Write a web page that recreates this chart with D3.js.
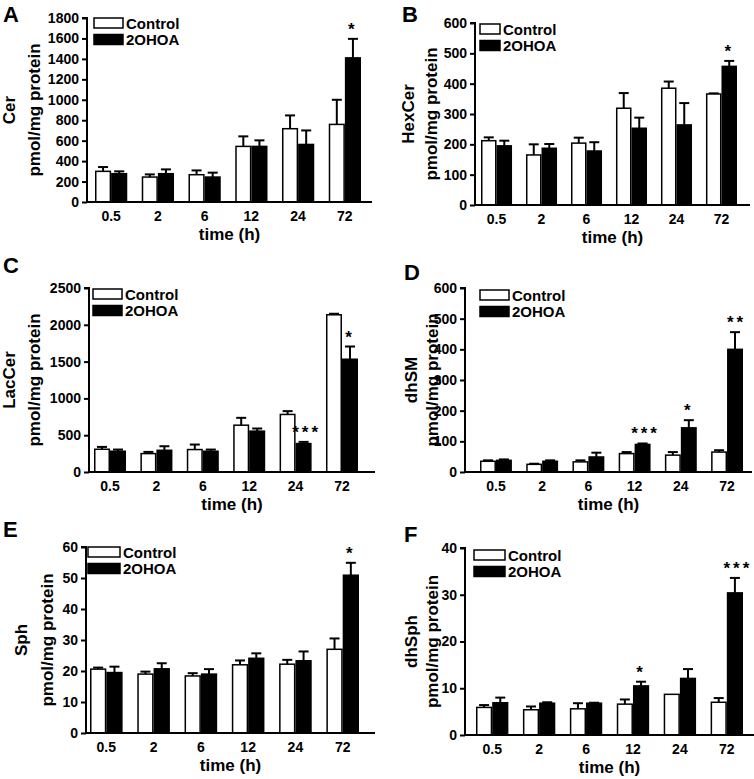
<!DOCTYPE html>
<html>
<head>
<meta charset="utf-8">
<script src="https://cdn.jsdelivr.net/npm/d3@7"></script>
<style>
  body { margin: 0; background: #fff; }
  svg text { font-family: "Liberation Sans", Arial, sans-serif; font-weight: bold; fill: #000; }
</style>
</head>
<body>
<svg id="chart" width="754" height="779"></svg>
<script>
var times = ["0.5", "2", "6", "12", "24", "72"];
var seriesNames = ["Control", "2OHOA"];

// Cer
var cerCtrl = [300, 244, 267, 544, 717, 759];
var cerCtrlSem = [42, 26, 42, 98, 130, 241];
var cerOh = [277, 277, 244, 544, 563, 1410];
var cerOhSem = [23, 42, 43, 59, 137, 186];
var cerSig = ["", "", "", "", "", "*"];

// HexCer
var hexCtrl = [212, 165, 204, 319, 385, 366];
var hexCtrlSem = [11, 35, 18, 50, 22, 2];
var hexOh = [195, 187, 178, 253, 264, 457];
var hexOhSem = [17, 14, 29, 35, 72, 18];
var hexSig = ["", "", "", "", "", "*"];

// LacCer
var lacCtrl = [309, 250, 305, 636, 782, 2136];
var lacCtrlSem = [32, 23, 68, 100, 45, 14];
var lacOh = [282, 295, 282, 555, 386, 1532];
var lacOhSem = [23, 55, 23, 36, 23, 173];
var lacSig = ["", "", "", "", "***", "*"];

// dhSM
var dhsmCtrl = [35, 25, 33, 60, 55, 65];
var dhsmCtrlSem = [3, 2, 5, 5, 10, 6];
var dhsmOh = [38, 35, 49, 90, 144, 400];
var dhsmOhSem = [3, 3, 14, 3, 25, 56];
var dhsmSig = ["", "", "", "***", "*", "**"];

// Sph
var sphCtrl = [20.6, 19.0, 18.4, 22.0, 22.2, 27.0];
var sphCtrlSem = [0.5, 0.8, 0.9, 1.4, 1.4, 3.5];
var sphOh = [19.5, 20.7, 19.0, 24.1, 23.3, 50.9];
var sphOhSem = [1.9, 1.8, 1.6, 1.6, 3.0, 4.0];
var sphSig = ["", "", "", "", "", "*"];

// dhSph
var dhsphCtrl = [5.9, 5.4, 5.6, 6.6, 8.7, 7.0];
var dhsphCtrlSem = [0.5, 0.7, 1.2, 1.0, 0, 0.9];
var dhsphOh = [6.9, 6.8, 6.8, 10.5, 12.1, 30.4];
var dhsphOhSem = [1.1, 0.2, 0.1, 0.9, 2.0, 3.2];
var dhsphSig = ["", "", "", "*", "", "***"];

var panels = [
  { letter: "A", name: "Cer", max: 1800, step: 200, ctrl: cerCtrl, ctrlSem: cerCtrlSem, oh: cerOh, ohSem: cerOhSem, sig: cerSig },
  { letter: "B", name: "HexCer", max: 600, step: 100, ctrl: hexCtrl, ctrlSem: hexCtrlSem, oh: hexOh, ohSem: hexOhSem, sig: hexSig },
  { letter: "C", name: "LacCer", max: 2500, step: 500, ctrl: lacCtrl, ctrlSem: lacCtrlSem, oh: lacOh, ohSem: lacOhSem, sig: lacSig },
  { letter: "D", name: "dhSM", max: 600, step: 100, ctrl: dhsmCtrl, ctrlSem: dhsmCtrlSem, oh: dhsmOh, ohSem: dhsmOhSem, sig: dhsmSig },
  { letter: "E", name: "Sph", max: 60, step: 10, ctrl: sphCtrl, ctrlSem: sphCtrlSem, oh: sphOh, ohSem: sphOhSem, sig: sphSig },
  { letter: "F", name: "dhSph", max: 40, step: 10, ctrl: dhsphCtrl, ctrlSem: dhsphCtrlSem, oh: dhsphOh, ohSem: dhsphOhSem, sig: dhsphSig }
];

// where each panel sits on the page
var layout = [
  { axisX: 87,  barL: 95,  barR: 361, axisR: 372, yTop: 18,  y0: 202, titleX: [15, 40],   legX: 94,  legW: 29, legY: 18,  letterX: 3,   letterY: 22 },
  { axisX: 475, barL: 481, barR: 737, axisR: 750, yTop: 23,  y0: 205, titleX: [414, 437], legX: 480, legW: 20, legY: 24,  letterX: 402, letterY: 22 },
  { axisX: 89,  barL: 94,  barR: 358, axisR: 375, yTop: 288, y0: 472, titleX: [15, 40],   legX: 93,  legW: 29, legY: 289, letterX: 3,   letterY: 273 },
  { axisX: 465, barL: 480, barR: 743, axisR: 752, yTop: 288, y0: 472, titleX: [417, 438], legX: 480, legW: 29, legY: 290, letterX: 404, letterY: 280 },
  { axisX: 86,  barL: 90,  barR: 359, axisR: 375, yTop: 547, y0: 733, titleX: [27, 53],   legX: 88,  legW: 32, legY: 547, letterX: 3,   letterY: 537 },
  { axisX: 465, barL: 476, barR: 743, axisR: 754, yTop: 548, y0: 735, titleX: [417, 438], legX: 474, legW: 31, legY: 550, letterX: 404, letterY: 542 }
];

var svg = d3.select("#chart");

panels.forEach(function (p, i) {
  var L = layout[i];
  var g = svg.append("g");

  var x = d3.scaleBand().domain(times).range([L.barL, L.barR]).paddingInner(0.31).paddingOuter(0);
  var xs = d3.scaleBand().domain(seriesNames).range([0, x.bandwidth()]);
  var y = d3.scaleLinear().domain([0, p.max]).range([L.y0, L.yTop]);

  var rows = times.map(function (t, j) {
    return [
      { t: t, s: "Control", v: p.ctrl[j], e: p.ctrlSem[j], sig: "" },
      { t: t, s: "2OHOA", v: p.oh[j], e: p.ohSem[j], sig: p.sig[j] }
    ];
  });
  var bars = [].concat.apply([], rows);

  // error bars (drawn first so the bar outline covers the stem)
  var eb = g.selectAll(".err").data(bars.filter(function (d) { return d.e > 0; }))
    .enter().append("g").attr("class", "err")
    .attr("stroke", "#000").attr("stroke-width", 2);
  eb.append("line")
    .attr("x1", function (d) { return x(d.t) + xs(d.s) + xs.bandwidth() / 2; })
    .attr("x2", function (d) { return x(d.t) + xs(d.s) + xs.bandwidth() / 2; })
    .attr("y1", function (d) { return y(d.v); })
    .attr("y2", function (d) { return y(d.v + d.e); });
  eb.append("line")
    .attr("x1", function (d) { return x(d.t) + xs(d.s) + xs.bandwidth() / 2 - 5; })
    .attr("x2", function (d) { return x(d.t) + xs(d.s) + xs.bandwidth() / 2 + 5; })
    .attr("y1", function (d) { return y(d.v + d.e); })
    .attr("y2", function (d) { return y(d.v + d.e); });

  g.selectAll(".bar").data(bars).enter().append("rect")
    .attr("class", "bar")
    .attr("x", function (d) { return x(d.t) + xs(d.s) + 0.75; })
    .attr("width", xs.bandwidth() - 1.5)
    .attr("y", function (d) { return y(d.v); })
    .attr("height", function (d) { return L.y0 - y(d.v); })
    .attr("fill", function (d) { return d.s === "Control" ? "#fff" : "#000"; })
    .attr("stroke", "#000").attr("stroke-width", 1.5);

  // significance stars
  g.selectAll(".sig").data(bars.filter(function (d) { return d.sig; }))
    .enter().append("text")
    .attr("class", "sig")
    .attr("x", function (d) { return x(d.t) + xs(d.s) + xs.bandwidth() / 2 + (d.sig.length - 1) * 1.5; })
    .attr("y", function (d) { return y(d.v + d.e) - 4; })
    .attr("text-anchor", "middle")
    .style("font-size", "17px")
    .style("letter-spacing", "3px")
    .text(function (d) { return d.sig; });

  // y axis
  var yAxis = d3.axisLeft(y).tickValues(d3.range(0, p.max + 0.001, p.step))
    .tickSize(5).tickPadding(3).tickFormat(d3.format("d"));
  var ya = g.append("g").attr("transform", "translate(" + L.axisX + ",0)").call(yAxis);
  ya.select(".domain").attr("stroke-width", 2).attr("d", "M-5," + L.yTop + "H0V" + L.y0);
  ya.selectAll(".tick line").attr("stroke-width", 2);
  ya.selectAll(".tick text").style("font-size", "14px").style("font-family", "\"Liberation Sans\", Arial, sans-serif").style("font-weight", "bold");

  // x axis
  g.append("line")
    .attr("x1", L.axisX - 1).attr("x2", L.axisR)
    .attr("y1", L.y0).attr("y2", L.y0)
    .attr("stroke", "#000").attr("stroke-width", 2);
  g.selectAll(".xlab").data(times).enter().append("text")
    .attr("x", function (t) { return x(t) + x.bandwidth() / 2; })
    .attr("y", L.y0 + 19)
    .attr("text-anchor", "middle")
    .style("font-size", "14px")
    .text(function (t) { return t; });
  g.append("text")
    .attr("x", (L.axisX + L.axisR) / 2)
    .attr("y", L.y0 + 38)
    .attr("text-anchor", "middle")
    .style("font-size", "17px")
    .text("time (h)");

  // y title, two lines
  var midY = (L.yTop + L.y0) / 2;
  [p.name, "pmol/mg protein"].forEach(function (s, k) {
    g.append("text")
      .attr("transform", "translate(" + L.titleX[k] + "," + midY + ") rotate(-90)")
      .attr("text-anchor", "middle")
      .style("font-size", "17px")
      .text(s);
  });

  // legend
  seriesNames.forEach(function (s, k) {
    g.append("rect")
      .attr("x", L.legX).attr("y", L.legY + k * 16.5)
      .attr("width", L.legW).attr("height", 10)
      .attr("fill", k === 0 ? "#fff" : "#000")
      .attr("stroke", "#000").attr("stroke-width", 1.5);
    g.append("text")
      .attr("x", L.legX + L.legW + 3).attr("y", L.legY + k * 16.5 + 10.5)
      .style("font-size", "15px")
      .text(s);
  });

  // panel letter
  g.append("text")
    .attr("x", L.letterX).attr("y", L.letterY)
    .style("font-size", "22px")
    .text(p.letter);
});
</script>
</body>
</html>
